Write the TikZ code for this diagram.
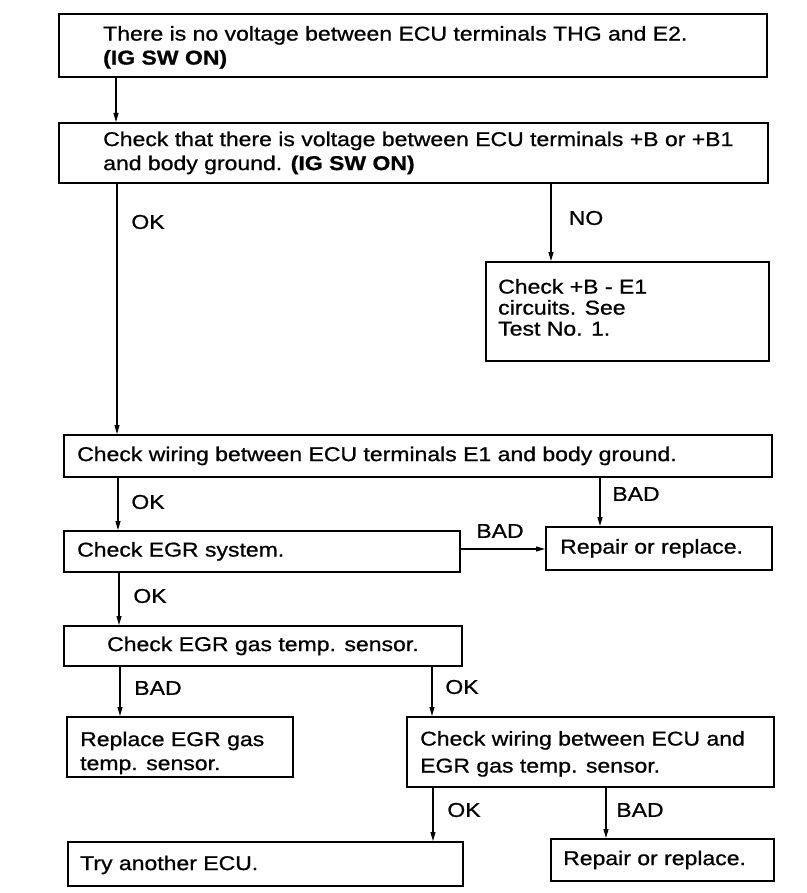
\documentclass[tikz,border=0pt]{standalone}
\usepackage{fontspec}
\setmainfont{Liberation Sans}[FakeStretch=1.15,FakeBold=0.8]
\usetikzlibrary{arrows.meta}
\newcommand\fs{\fontsize{20}{24}\selectfont}
\begin{document}
\begin{tikzpicture}[x=1pt,y=-1pt,
  box/.style={draw, line width=1.8pt, anchor=north west, inner sep=0pt},
  txt/.style={anchor=west, align=left, inner sep=0pt, font=\fs},
  lab/.style={anchor=center, inner sep=0pt, font=\fs},
  arr/.style={line width=1.1pt, -{Triangle[length=9pt,width=5pt]}}]
\useasboundingbox[fill=white] (0,0) rectangle (806,893);
% boxes
\node[box, minimum width=708pt, minimum height=63pt] (b1) at (58,13) {};
\node[box, minimum width=709pt, minimum height=60pt] (b2) at (58,122) {};
\node[box, minimum width=283pt, minimum height=99pt] (bno) at (485,261) {};
\node[box, minimum width=708pt, minimum height=42pt] (b3) at (63,434) {};
\node[box, minimum width=396pt, minimum height=41pt] (b4) at (63,530) {};
\node[box, minimum width=226pt, minimum height=43pt] (r1) at (545,526) {};
\node[box, minimum width=398pt, minimum height=40pt] (b5) at (63,625) {};
\node[box, minimum width=226pt, minimum height=60pt] (b6) at (66,716) {};
\node[box, minimum width=367pt, minimum height=70pt] (b7) at (406,716) {};
\node[box, minimum width=395pt, minimum height=44pt] (b8) at (67,841) {};
\node[box, minimum width=223pt, minimum height=42pt] (b9) at (550,838) {};
% texts
\node[txt] (t1) at ([xshift=45pt,yshift=-2pt]b1.west) {There is no voltage between ECU terminals THG and E2.\\\textbf{(IG SW ON)}};
\node[txt] (t2) at ([xshift=45pt]b2.west) {Check that there is voltage between ECU terminals +B or +B1\\and body ground. \textbf{(IG SW ON)}};
\node[txt, font=\fontsize{20}{21}\selectfont] (tno) at ([xshift=13pt,yshift=4pt]bno.west) {Check +B - E1\\circuits. See\\Test No. 1.};
\node[txt] (t3) at ([xshift=14pt]b3.west) {Check wiring between ECU terminals E1 and body ground.};
\node[txt] (t4) at ([xshift=14pt]b4.west) {Check EGR system.};
\node[txt] (tr1) at ([xshift=15pt]r1.west) {Repair or replace.};
\node[lab] (t5) at (b5.center) {Check EGR gas temp. sensor.};
\node[txt] (t6) at ([xshift=14pt,yshift=-6pt]b6.west) {Replace EGR gas\\temp. sensor.};
\node[txt, font=\fontsize{20}{27}\selectfont] (t7) at ([xshift=14pt,yshift=-2pt]b7.west) {Check wiring between ECU and\\EGR gas temp. sensor.};
\node[txt] (t8) at ([xshift=13pt,yshift=-1pt]b8.west) {Try another ECU.};
\node[txt] (t9) at ([xshift=13pt]b9.west) {Repair or replace.};
% arrow columns
\coordinate (xa) at (116,0);
\coordinate (xb) at (117,0);
\coordinate (xc) at (551,0);
\coordinate (xd) at (118,0);
\coordinate (xe) at (600,0);
\coordinate (yf) at (0,549);
\coordinate (xg) at (119,0);
\coordinate (xh) at (120,0);
\coordinate (xi) at (432,0);
\coordinate (xj) at (433,0);
\coordinate (xk) at (606,0);
\draw[arr] (xa |- b1.south) -- (xa |- b2.north);
\draw[arr] (xb |- b2.south) -- (xb |- b3.north);
\draw[arr] (xc |- b2.south) -- (xc |- bno.north);
\draw[arr] (xd |- b3.south) -- (xd |- b4.north);
\draw[arr] (xe |- b3.south) -- (xe |- r1.north);
\draw[arr] (b4.east |- yf) -- (r1.west |- yf);
\draw[arr] (xg |- b4.south) -- (xg |- b5.north);
\draw[arr] (xh |- b5.south) -- (xh |- b6.north);
\draw[arr] (xi |- b5.south) -- (xi |- b7.north);
\draw[arr] (xj |- b7.south) -- (xj |- b8.north);
\draw[arr] (xk |- b7.south) -- (xk |- b9.north);
% labels
\node[lab] (l1) at (148,222) {OK};
\node[lab] (l2) at (586,218) {NO};
\node[lab] (l3) at (148,502) {OK};
\node[lab] (l4) at (636,494) {BAD};
\node[lab] (l5) at (500,531) {BAD};
\node[lab] (l6) at (150,596) {OK};
\node[lab] (l7) at (158,688) {BAD};
\node[lab] (l8) at (462,687) {OK};
\node[lab] (l9) at (464,810) {OK};
\node[lab] (l10) at (640,810) {BAD};
\end{tikzpicture}
\end{document}
